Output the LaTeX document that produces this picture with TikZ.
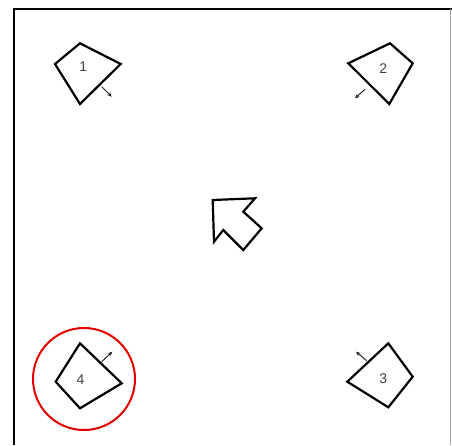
\documentclass[tikz,border=0pt]{standalone}
\usepackage{fontspec}
\setmainfont{Liberation Sans}
\usetikzlibrary{arrows.meta}
\begin{document}
\begin{tikzpicture}[x=1pt,y=-1pt,
  shp/.style={draw=black,line width=2.2pt,line join=miter},
  tick/.style={draw=black!85,line width=1pt,-{Stealth[length=4.5pt,width=4pt]}},
  lbl/.style={text=black!75,font=\fontsize{14}{14}\selectfont,inner sep=0pt},
  frameline/.style={draw=black,line width=2.5pt}]
\useasboundingbox (0,0) rectangle (452,445);
\fill[white] (0,0) rectangle (452,445);
% frame
\coordinate (fbl) at (14,445);
\coordinate (ftl) at (14,9);
\coordinate (ftr) at (452,9);
\coordinate (rt) at (450,9);
\coordinate (rb) at (450,445);
\draw[frameline] (fbl) -- (ftl) -- (ftr);
\draw[draw=black!35,line width=1pt] (rt) -- (rb);
% shape 1
\draw[shp] (80,43.3) -- (120.7,64) -- (80,104) -- (55,64) -- cycle;
\node[lbl] (l1) at (83.3,67) {1};
\coordinate (a1s) at (101.7,86.7);
\coordinate (a1e) at (111.7,96.7);
\draw[tick] (a1s) -- (a1e);
% shape 2
\draw[shp] (390,43.3) -- (412.7,63.3) -- (389.3,104) -- (348.3,63.3) -- cycle;
\node[lbl] (l2) at (383.3,68.3) {2};
\coordinate (a2s) at (365,89.3);
\coordinate (a2e) at (355,98.3);
\draw[tick] (a2s) -- (a2e);
% shape 3
\draw[shp] (388.3,343.3) -- (412.7,376.7) -- (388.3,407.3) -- (347.3,381.7) -- cycle;
\node[lbl] (l3) at (383.3,378.3) {3};
\coordinate (a3s) at (366.7,360.7);
\coordinate (a3e) at (356,351.7);
\draw[tick] (a3s) -- (a3e);
% shape 4
\draw[shp] (80,343.3) -- (121.7,383.3) -- (80,408.3) -- (55.7,381.7) -- cycle;
\node[lbl] (l4) at (80.5,380) {4};
\coordinate (a4s) at (101.7,361.7);
\coordinate (a4e) at (112.3,351.7);
\draw[tick] (a4s) -- (a4e);
\node[draw=red!90!black,line width=2pt,circle,minimum size=102pt,inner sep=0pt] (c4) at (84,379) {};
% central arrow
\draw[shp] (212.7,200) -- (255,198.3) -- (243.3,211.7) -- (261.7,228.3) -- (243.3,250) -- (223.3,230) -- (214,241.7) -- cycle;
\end{tikzpicture}
\end{document}
